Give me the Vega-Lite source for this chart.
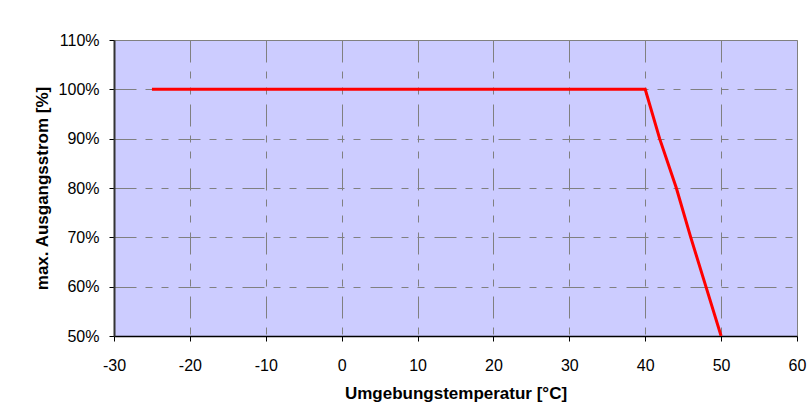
{
  "$schema": "https://vega.github.io/schema/vega-lite/v6.json",
  "width": 683,
  "height": 296,
  "autosize": {"type": "none"},
  "padding": {"left": 114, "top": 40, "right": 14, "bottom": 81},
  "background": "white",
  "config": {
    "font": "Liberation Sans",
    "view": {"fill": "#CCCCFF", "stroke": "#808080", "strokeWidth": 1}
  },
  "data": {
    "values": [
      {"t": -25, "p": 100},
      {"t": 40, "p": 100},
      {"t": 41.9, "p": 90},
      {"t": 44.1, "p": 80},
      {"t": 46, "p": 70},
      {"t": 48, "p": 60},
      {"t": 50, "p": 50}
    ]
  },
  "mark": {"type": "line", "color": "#FF0000", "strokeWidth": 3, "clip": true},
  "encoding": {
    "x": {
      "field": "t",
      "type": "quantitative",
      "scale": {"domain": [-30, 60], "nice": false, "zero": false},
      "axis": {
        "values": [-30, -20, -10, 0, 10, 20, 30, 40, 50, 60],
        "labelExpr": "'' + datum.value",
        "title": "Umgebungstemperatur [°C]",
        "titleFontSize": 17,
        "titleFontWeight": "bold",
        "titleColor": "black",
        "titlePadding": 12,
        "labelFontSize": 16,
        "labelColor": "black",
        "labelPadding": 16,
        "labelFlush": false,
        "tickSize": 5,
        "tickColor": "black",
        "domainColor": "black",
        "domainWidth": 1.5,
        "grid": true,
        "gridColor": "#808080",
        "gridWidth": 1,
        "gridDash": [22, 9, 7, 9, 7, 10]
      }
    },
    "y": {
      "field": "p",
      "type": "quantitative",
      "scale": {"domain": [50, 110], "nice": false, "zero": false},
      "axis": {
        "values": [50, 60, 70, 80, 90, 100, 110],
        "labelExpr": "datum.value + '%'",
        "title": "max. Ausgangsstrom [%]",
        "titleFontSize": 17,
        "titleFontWeight": "bold",
        "titleColor": "black",
        "titlePadding": 7,
        "labelFontSize": 16,
        "labelColor": "black",
        "labelPadding": 10,
        "labelFlush": false,
        "tickSize": 5,
        "tickColor": "black",
        "domainColor": "#333333",
        "domainWidth": 2,
        "grid": true,
        "gridColor": "#808080",
        "gridWidth": 1,
        "gridDash": [22, 9, 7, 9, 7, 10]
      }
    }
  }
}
